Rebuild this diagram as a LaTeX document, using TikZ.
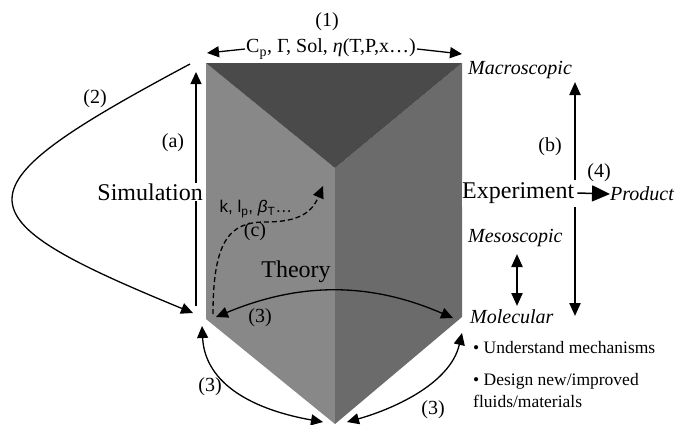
\documentclass[tikz,border=0pt]{standalone}
\usepackage{fontspec}
\setmainfont{Liberation Serif}
\setsansfont{Liberation Sans}
\usetikzlibrary{arrows.meta,positioning}
\definecolor{cTop}{RGB}{74,74,74}
\definecolor{cLeft}{RGB}{136,136,136}
\definecolor{cRight}{RGB}{107,107,107}
\tikzset{
  bigtxt/.style={font=\fontsize{24}{28}\selectfont,inner sep=1pt},
  lvltxt/.style={font=\fontsize{20}{24}\selectfont\itshape,anchor=west,
                 inner sep=0pt},
  numlbl/.style={font=\fontsize{20}{24}\selectfont,inner sep=1pt},
  bullet/.style={font=\fontsize{17.5}{22}\selectfont,anchor=west,
                 align=left,inner sep=0pt},
  arr/.style={-{Triangle[length=12pt,width=11pt]},line width=1.3pt},
  dblarr/.style={{Triangle[length=12pt,width=11pt]}-{Triangle[length=12pt,width=11pt]},
                 line width=1.3pt},
  thkarr/.style={{Triangle[length=13pt,width=11pt]}-{Triangle[length=13pt,width=11pt]},
                 line width=2.2pt},
  bigarr/.style={-{Triangle[length=18pt,width=16pt]},line width=1.5pt},
  dasharr/.style={-{Triangle[length=12pt,width=11pt]},line width=1.3pt,
                  dash pattern=on 5pt off 3pt}
}
\begin{document}
\begin{tikzpicture}[x=1pt,y=-1pt]
  \useasboundingbox (0,0) rectangle (679,424);

  % Prism corners
  \coordinate (tl) at (206,63);
  \coordinate (tr) at (462,63);
  \coordinate (tc) at (335,168);
  \coordinate (bl) at (206,319);
  \coordinate (br) at (462,317);
  \coordinate (bc) at (335,424);

  % Faces
  \fill[cLeft]  (tl) -- (tc) -- (bc) -- (bl) -- cycle;
  \fill[cRight] (tr) -- (tc) -- (bc) -- (br) -- cycle;
  \fill[cTop]   (tl) -- (tr) -- (tc) -- cycle;

  % (1) properties
  \node[numlbl] (one) at (327,22) {(1)};
  \node[numlbl,fill=white] (props) at (331,49)
      {C\textsubscript{p}, Γ, Sol, \textit{η}(T,P,x\dots)};
  \coordinate (pl) at (207,53);
  \coordinate (pr) at (462,54);
  \draw[arr] (props.west) -- (pl);
  \draw[arr] (props.east) -- (pr);

  % Simulation side
  \coordinate (a1) at (196,306);
  \coordinate (a2) at (196,72);
  \draw[arr] (a1) -- (a2);
  \node[bigtxt,fill=white,anchor=east] (sim) at (204,192) {Simulation};
  \node[numlbl] (la) at (173,143) {(a)};
  \coordinate (s1) at (190,64);
  \coordinate (s2) at (193,313);
  \draw[arr] (s1) .. controls (-46,190) and (-46,215) .. (s2);
  \node[numlbl] (two) at (95,99) {(2)};

  % Theory
  \node[font=\fontsize{17}{20}\sffamily,inner sep=0pt] (kl) at (256,209)
      {k, l\textsubscript{p}, \textit{β}\textsubscript{T}\dots};
  \node[numlbl] (lc) at (255,232) {(c)};
  \coordinate (c0) at (213,314);
  \coordinate (c1) at (323,186);
  \draw[dasharr] (c0) .. controls (213,240) and (230,222) .. (265,222)
      .. controls (300,222) and (312,212) .. (c1);
  \node[bigtxt] (theory) at (296,272) {Theory};
  \coordinate (t1) at (216,317);
  \coordinate (t2) at (453,318);
  \draw[dblarr] (t1) .. controls (300,282) and (370,282) .. (t2);
  \node[numlbl] (three1) at (260,318) {(3)};

  % Lower links
  \coordinate (u1) at (202,326);
  \coordinate (u2) at (323,422);
  \coordinate (u3) at (347,422);
  \coordinate (u4) at (462,333);
  \draw[dblarr] (u1) .. controls (205,385) and (255,410) .. (u2);
  \draw[dblarr] (u3) .. controls (390,410) and (450,385) .. (u4);
  \node[numlbl] (three2) at (210,387) {(3)};
  \node[numlbl] (three3) at (433,410) {(3)};

  % Experiment side
  \node[lvltxt] (macro) at (468,70) {Macroscopic};
  \node[lvltxt] (meso) at (468,238) {Mesoscopic};
  \node[lvltxt] (mol) at (470,317) {Molecular};
  \coordinate (b1) at (575,82);
  \coordinate (b2) at (575,316);
  \draw[thkarr] (b1) -- (b2);
  \coordinate (m1) at (517,254);
  \coordinate (m2) at (517,306);
  \draw[thkarr] (m1) -- (m2);
  \node[numlbl] (lb) at (550,147) {(b)};
  \node[bigtxt,fill=white,anchor=west,inner xsep=0pt,inner ysep=3pt,
        text width=115pt] (exp) at (462,193) {Experiment};
  \node[lvltxt] (prod) at (610,194) {Product};
  \draw[bigarr] (exp.east) -- (prod.west);
  \node[numlbl] (four) at (599,173) {(4)};

  % Goals
  \node[bullet] (g1) at (473,348) {• Understand mechanisms};
  \node[bullet] (g2) at (473,391) {• Design new/improved\\fluids/materials};

\end{tikzpicture}
\end{document}
